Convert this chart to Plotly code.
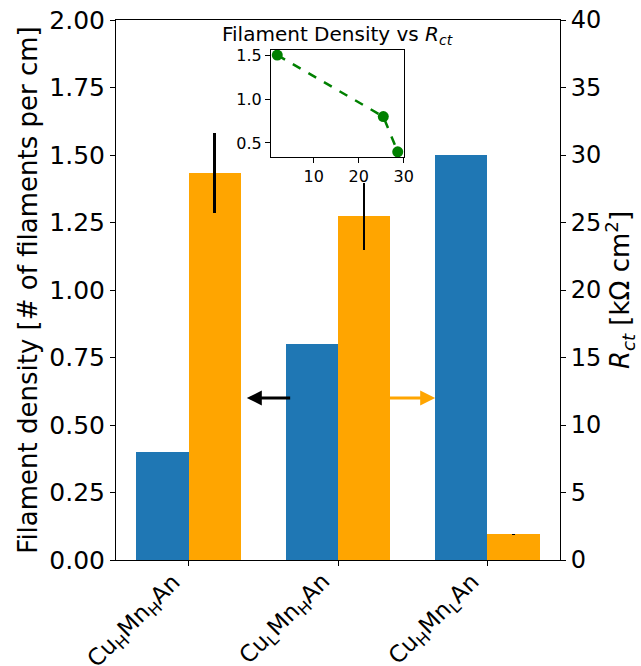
import plotly.graph_objects as go

categories = ["Cu<sub>H</sub>Mn<sub>H</sub>An", "Cu<sub>L</sub>Mn<sub>H</sub>An", "Cu<sub>H</sub>Mn<sub>L</sub>An"]
filament_density = [0.4, 0.8, 1.5]
rct = [28.65, 25.45, 1.9]
rct_err = [2.95, 2.5, 0.05]

width = 0.35
idx = list(range(len(categories)))
FONT = "DejaVu Sans"

fig = go.Figure()
fig.add_trace(go.Bar(x=[i - width / 2 for i in idx], y=filament_density, width=width,
                     marker=dict(color="#1f77b4", line=dict(width=0)), yaxis="y", xaxis="x",
                     showlegend=False))
fig.add_trace(go.Bar(x=[i + width / 2 for i in idx], y=rct, width=width,
                     marker=dict(color="orange", line=dict(width=0)), yaxis="y2", xaxis="x",
                     error_y=dict(type="data", array=rct_err, color="black", thickness=2.5, width=0),
                     showlegend=False))

# inset: filament density vs Rct
pairs = sorted(zip(rct, filament_density))
fig.add_trace(go.Scatter(x=[p[0] for p in pairs], y=[p[1] for p in pairs], mode="lines+markers",
                         line=dict(color="green", dash="dash", width=2.5),
                         marker=dict(color="green", size=11),
                         xaxis="x3", yaxis="y3", showlegend=False, cliponaxis=False))

axis_common = dict(showline=True, linecolor="black", linewidth=1, ticks="outside",
                   ticklen=5, tickcolor="black", showgrid=False, zeroline=False, automargin=False)

# rotated category labels (matplotlib style: rotated box right-aligned to the tick)
cat_labels = [dict(text=c, x=i, y=0, xref="x", yref="paper", xanchor="right", yanchor="top",
                   textangle=-45, showarrow=False, yshift=-6, xshift=2, font=dict(size=23))
              for i, c in zip(idx, categories)]

fig.update_layout(
    width=641, height=666,
    margin=dict(l=116, r=81, t=20, b=106),
    plot_bgcolor="white", paper_bgcolor="white",
    font=dict(family=FONT, color="black"),
    bargap=0,
    xaxis=dict(**axis_common, mirror=True, range=[-0.485, 2.485], tickvals=idx,
               showticklabels=False),
    yaxis=dict(**axis_common, range=[0, 2], tickvals=[0, 0.25, 0.5, 0.75, 1.0, 1.25, 1.5, 1.75, 2.0],
               tickformat=".2f", tickfont=dict(size=25),
               title=dict(text="Filament density [# of filaments per cm]", font=dict(size=26), standoff=4)),
    yaxis2=dict(**axis_common, overlaying="y", side="right", range=[0, 40], dtick=5,
                tickfont=dict(size=24),
                title=dict(text="<i>R</i><sub><i>ct</i></sub> [kΩ cm<sup>2</sup>]", font=dict(size=26), standoff=6)),
    xaxis3=dict(**axis_common, mirror=True, domain=[0.349, 0.649], anchor="y3", range=[0.5, 30.08],
                tickvals=[10, 20, 30], tickfont=dict(size=16)),
    yaxis3=dict(**axis_common, mirror=True, domain=[0.747, 0.944], anchor="x3", range=[0.345, 1.555],
                tickvals=[0.5, 1.0, 1.5], tickformat=".1f", tickfont=dict(size=16)),
    annotations=cat_labels + [
        dict(text="Filament Density vs <i>R</i><sub><i>ct</i></sub>", xref="x3 domain", yref="y3 domain",
             x=0.5, y=1.0, yanchor="bottom", showarrow=False, font=dict(size=20)),
        dict(x=0.39, y=0.6, ax=0.69, ay=0.6, xref="x", yref="y", axref="x", ayref="y",
             showarrow=True, arrowhead=2, arrowsize=1, arrowwidth=3, arrowcolor="black", text=""),
        dict(x=1.65, y=12, ax=1.336, ay=12, xref="x", yref="y2", axref="x", ayref="y2",
             showarrow=True, arrowhead=2, arrowsize=1, arrowwidth=3, arrowcolor="orange", text=""),
    ],
)

fig.write_html("out.html")
